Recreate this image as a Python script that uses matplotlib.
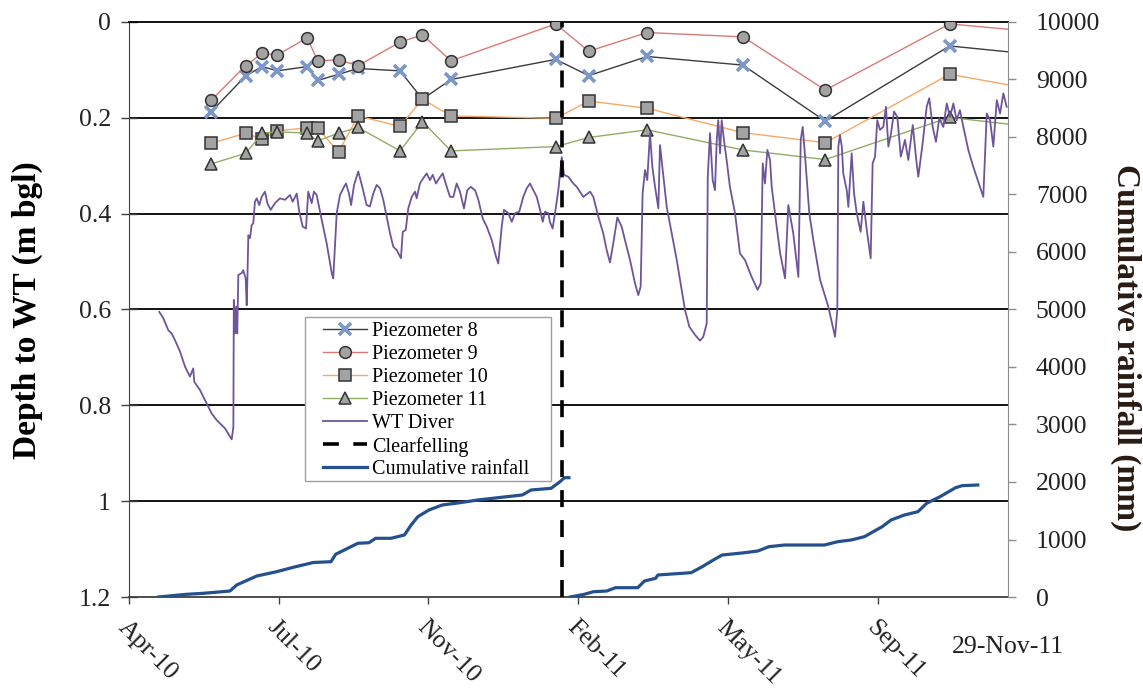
import matplotlib
matplotlib.use('Agg')
import matplotlib.pyplot as plt
from matplotlib.lines import Line2D
from matplotlib.patches import Rectangle
from matplotlib.transforms import ScaledTranslation

plt.rcParams['font.family'] = ['Liberation Serif', 'DejaVu Serif']

# ---------------- data (x = days since 21-Apr-2010) ----------------
x_start_label = 0
x_end = 587                      # 29-Nov-11
tick_days = [0, 100, 200, 300, 400, 500]
tick_labels = ['Apr-10', 'Jul-10', 'Nov-10', 'Feb-11', 'May-11', 'Sep-11']
end_label = '29-Nov-11'

piezo_days = [55, 78, 89, 99, 119, 126, 140, 153, 181, 196, 215, 285, 307, 346, 410, 465, 548, 615]
p8 = [0.187, 0.112, 0.093, 0.102, 0.093, 0.122, 0.109, 0.097, 0.102, 0.161, 0.120, 0.078,
      0.112, 0.072, 0.090, 0.207, 0.050, 0.071]
p9 = [0.163, 0.091, 0.065, 0.069, 0.033, 0.081, 0.079, 0.091, 0.042, 0.027, 0.081, 0.004,
      0.061, 0.022, 0.031, 0.142, 0.004, 0.023]
p10 = [0.253, 0.232, 0.245, 0.227, 0.221, 0.222, 0.271, 0.196, 0.218, 0.161, 0.196, 0.201,
       0.165, 0.180, 0.231, 0.252, 0.109, 0.147]
p11 = [0.296, 0.274, 0.232, 0.229, 0.232, 0.248, 0.232, 0.220, 0.269, 0.208, 0.269, 0.260,
       0.241, 0.225, 0.267, 0.287, 0.199, 0.223]

diver_days = [20.2, 22.9, 26.2, 28.5, 30.7, 34.1, 37.4, 40.7, 42.9, 43.6, 47.4, 51.9, 55.2, 58.6,
              64.1, 68.6, 69.7, 70.0, 70.8, 71.5, 72.3, 73.0, 75.3, 76.3, 77.9, 78.6, 79.0, 79.7,
              80.8, 81.9, 83.0, 84.1, 85.3, 87.0, 88.6, 90.8, 92.4, 94.6, 97.5, 100.8, 104.2,
              107.5, 109.3, 112.0, 113.7, 116.0, 118.2, 119.7, 122.0, 123.5, 125.3, 128.7, 132.0,
              135.4, 136.4, 138.7, 140.9, 143.1, 144.9, 146.9, 148.3, 150.3, 153.1, 155.8, 158.7,
              160.9, 163.1, 165.4, 167.6, 169.8, 171.6, 174.3, 176.5, 178.8, 181.6, 182.8, 184.8,
              186.5, 188.8, 191.0, 192.1, 194.3, 196.5, 198.8, 201.0, 202.8, 205.0, 207.2, 209.5,
              212.2, 214.4, 216.6, 218.8, 221.0, 223.7, 225.9, 228.2, 231.1, 233.3, 236.2, 238.9,
              242.2, 245.1, 246.6, 248.9, 250.4, 253.3, 255.6, 257.8, 260.6, 263.3, 265.6, 267.8,
              270.0, 272.3, 274.5, 276.3, 277.8, 280.0, 281.1, 282.9, 285.1, 286.7, 287.8, 289.0,
              290.5, 293.4, 296.7, 299.0, 303.4, 307.9, 310.1, 313.4, 316.7, 319.0, 321.2, 323.4,
              326.1, 329.0, 331.2, 334.6, 337.9, 340.1, 341.7, 343.0, 344.6, 346.1, 347.9, 349.5,
              351.3, 353.5, 354.6, 356.4, 359.1, 362.4, 365.8, 369.1, 371.3, 374.2, 378.0, 381.3,
              383.5, 385.8, 386.5, 388.0, 389.8, 391.3, 392.5, 393.5, 394.7, 395.8, 397.3, 399.1,
              401.3, 404.7, 408.0, 411.4, 415.8, 419.8, 421.9, 423.2, 424.7, 426.3, 428.1, 429.2,
              431.4, 434.8, 438.1, 440.3, 443.6, 447.0, 448.6, 449.9, 451.5, 454.3, 457.0, 461.5,
              467.0, 471.5, 473.0, 473.7, 474.8, 476.0, 477.0, 479.3, 480.4, 482.6, 484.2, 486.0,
              488.6, 490.4, 493.0, 495.3, 496.6, 498.2, 499.7, 501.5, 503.7, 505.5, 507.1, 508.9,
              510.9, 513.1, 515.4, 518.2, 520.4, 523.4, 525.6, 527.1, 530.0, 532.7, 534.4, 536.7,
              538.9, 541.1, 543.8, 546.1, 548.3, 550.5, 552.7, 554.9, 557.2, 560.5, 563.8, 568.3,
              570.5, 571.6, 572.8, 575.0, 577.2, 579.5, 581.7, 583.9, 586.1]
diver_depth = [0.605, 0.618, 0.643, 0.650, 0.664, 0.688, 0.719, 0.740, 0.723, 0.751, 0.768, 0.796,
               0.817, 0.831, 0.848, 0.871, 0.845, 0.580, 0.650, 0.594, 0.650, 0.528, 0.524, 0.518,
               0.535, 0.591, 0.545, 0.445, 0.451, 0.424, 0.420, 0.375, 0.368, 0.382, 0.365, 0.354,
               0.378, 0.392, 0.378, 0.368, 0.371, 0.361, 0.375, 0.358, 0.396, 0.427, 0.431, 0.354,
               0.378, 0.354, 0.361, 0.413, 0.462, 0.524, 0.535, 0.399, 0.361, 0.347, 0.337, 0.358,
               0.382, 0.340, 0.312, 0.344, 0.382, 0.385, 0.358, 0.340, 0.347, 0.371, 0.399, 0.441,
               0.469, 0.476, 0.493, 0.438, 0.434, 0.389, 0.365, 0.354, 0.368, 0.337, 0.326, 0.316,
               0.330, 0.319, 0.337, 0.326, 0.316, 0.344, 0.365, 0.365, 0.337, 0.354, 0.389, 0.351,
               0.344, 0.351, 0.371, 0.410, 0.427, 0.455, 0.490, 0.504, 0.427, 0.392, 0.399, 0.417,
               0.399, 0.396, 0.365, 0.347, 0.337, 0.351, 0.365, 0.392, 0.417, 0.396, 0.399, 0.417,
               0.431, 0.386, 0.351, 0.319, 0.282, 0.319, 0.323, 0.337, 0.344, 0.365, 0.354, 0.365,
               0.406, 0.441, 0.476, 0.502, 0.462, 0.408, 0.427, 0.455, 0.497, 0.545, 0.570, 0.552,
               0.358, 0.309, 0.330, 0.232, 0.302, 0.344, 0.389, 0.257, 0.309, 0.386, 0.441, 0.497,
               0.559, 0.601, 0.636, 0.653, 0.665, 0.657, 0.629, 0.323, 0.232, 0.330, 0.351, 0.246,
               0.205, 0.274, 0.205, 0.246, 0.288, 0.344, 0.399, 0.483, 0.497, 0.532, 0.559, 0.545,
               0.295, 0.337, 0.267, 0.288, 0.344, 0.399, 0.482, 0.535, 0.382, 0.441, 0.532, 0.246,
               0.219, 0.281, 0.399, 0.455, 0.538, 0.594, 0.657, 0.601, 0.260, 0.236, 0.260, 0.316,
               0.351, 0.386, 0.274, 0.358, 0.399, 0.438, 0.375, 0.441, 0.493, 0.295, 0.281, 0.205,
               0.225, 0.219, 0.177, 0.260, 0.232, 0.187, 0.198, 0.281, 0.246, 0.288, 0.215, 0.284,
               0.323, 0.253, 0.177, 0.159, 0.219, 0.250, 0.201, 0.219, 0.170, 0.198, 0.170, 0.205,
               0.184, 0.219, 0.267, 0.302, 0.344, 0.365, 0.281, 0.191, 0.205, 0.260, 0.163, 0.191,
               0.149, 0.177]

rain1_days = [19.6, 38.5, 49.6, 67.4, 71.9, 85.3, 98.6, 109.7, 123.1, 134.9, 138.0, 143.8, 152.8,
              160.2, 164.7, 175.0, 183.9, 188.4, 192.9, 200.3, 209.2, 221.0, 232.9, 246.3, 262.6,
              268.5, 281.9, 287.8, 290.8, 293.8]
rain1_mm = [0, 47, 64, 104, 209, 365, 440, 517, 600, 614, 743, 817, 934, 944, 1021, 1021, 1078,
            1252, 1397, 1513, 1600, 1640, 1687, 1727, 1774, 1861, 1890, 2005, 2075, 2075]
rain2_days = [294.6, 304.1, 310.1, 319.0, 324.9, 339.8, 344.2, 351.7, 353.2, 375.4, 382.8, 390.2,
              396.1, 411.0, 419.9, 427.3, 437.7, 464.4, 473.3, 482.2, 491.1, 497.0, 503.0, 508.9,
              517.8, 526.8, 532.7, 541.6, 552.0, 556.4, 566.8]
rain2_mm = [0, 47, 92, 104, 162, 162, 278, 325, 383, 423, 527, 643, 730, 770, 800, 875, 904, 904,
            962, 991, 1049, 1136, 1223, 1339, 1426, 1483, 1630, 1744, 1901, 1936, 1948]

clearfelling_day = 289

# ---------------- figure ----------------
W, H = 1143, 689
fig = plt.figure(figsize=(W / 100, H / 100), dpi=100)
ax = fig.add_axes([129 / W, 1 - 597 / H, (1008 - 129) / W, (597 - 22) / H])
ax2 = ax.twinx()

marker_face = '#A3A3A3'
marker_edge = '#333333'
c8, c9, c10, c11 = '#3C3C3C', '#D97A78', '#F7A867', '#92AD64'
c_div, c_rain = '#6E559A', '#24508E'

ax.plot(piezo_days, p8, color=c8, lw=1.0, marker='x', ms=9, mew=2.6, mec='#7D98C8', zorder=3)
ax.plot(piezo_days, p9, color=c9, lw=1.0, marker='o', ms=8.5, mfc=marker_face,
        mec=marker_edge, mew=1.1, zorder=3)
ax.plot(piezo_days, p10, color=c10, lw=1.0, marker='s', ms=8.5, mfc=marker_face,
        mec=marker_edge, mew=1.1, zorder=3)
ax.plot(piezo_days, p11, color=c11, lw=1.0, marker='^', ms=9, mfc=marker_face,
        mec=marker_edge, mew=1.1, zorder=3)
ax.plot(diver_days, diver_depth, color=c_div, lw=1.3, zorder=4)

for d in [0.2, 0.4, 0.6, 0.8, 1.0]:
    ax.axhline(d, color='black', lw=1.3, zorder=1)

ax.set_ylim(1.2, 0)
ax.set_xlim(x_start_label, x_end)
ax.set_yticks([0, 0.2, 0.4, 0.6, 0.8, 1.0, 1.2])
ax.set_yticklabels(['0', '0.2', '0.4', '0.6', '0.8', '1', '1.2'])
ax.set_xticks(tick_days)
ax.set_xticklabels(tick_labels, rotation=-45, ha='left', va='top', rotation_mode='anchor')
for lab in ax.get_xticklabels():
    lab.set_transform(lab.get_transform() + ScaledTranslation(0.14, 0, fig.dpi_scale_trans))

ax.tick_params(axis='y', direction='inout', length=12, width=1.0, color='#404040',
               labelsize=18.5, pad=7, labelcolor='#222222')
ax.tick_params(axis='x', direction='out', length=5, width=1.0, color='#404040',
               labelsize=18.5, pad=9, labelcolor='#222222')

ax.spines['left'].set_color('#404040')
ax.spines['bottom'].set_color('#404040')
ax.spines['bottom'].set_linewidth(1.3)
ax.spines['top'].set_color('black')
ax.spines['top'].set_linewidth(1.3)
ax.spines['right'].set_visible(False)

fig.text(27 / W, 1 - 310 / H, 'Depth to WT (m bgl)', rotation=90, ha='center', va='center',
         fontsize=24, fontweight='bold', color='black')
fig.text(1126 / W, 1 - 348 / H, 'Cumulative rainfall (mm)', rotation=270, ha='center',
         va='center', fontsize=24, fontweight='bold', color='#2A1A14')

ax.text(x_end, -0.087, end_label, transform=ax.get_xaxis_transform(), ha='center',
        va='center', fontsize=18.5, color='#222222')

# secondary axis
ax2.plot(rain1_days, rain1_mm, color=c_rain, lw=2.3, zorder=3)
ax2.plot(rain2_days, rain2_mm, color=c_rain, lw=2.3, zorder=3)
ax2.axvline(clearfelling_day, color='black', lw=2.6, dashes=(4.7, 3.6), zorder=5)
ax2.set_ylim(0, 10000)
ax2.set_xlim(x_start_label, x_end)
ax2.set_yticks(range(0, 10001, 1000))
ax2.tick_params(axis='y', direction='out', length=6, width=1.0, color='#8C8C8C',
                labelsize=18.5, pad=14, labelcolor='#222222')
for s in ['left', 'bottom', 'top']:
    ax2.spines[s].set_visible(False)
ax2.spines['right'].set_color('#8C8C8C')

# legend frame drawn separately
frame = Rectangle((305 / W, 1 - 481 / H), (551 - 305) / W, (481 - 317) / H,
                  transform=fig.transFigure, facecolor='white', edgecolor='#A0A0A0',
                  lw=1.0, zorder=9, clip_on=False)
ax2.add_patch(frame)

handles = [
    Line2D([], [], color=c8, lw=1.0, marker='x', ms=9, mew=2.6, mec='#7D98C8'),
    Line2D([], [], color=c9, lw=1.0, marker='o', ms=8.5, mfc=marker_face, mec=marker_edge, mew=1.1),
    Line2D([], [], color=c10, lw=1.0, marker='s', ms=8.5, mfc=marker_face, mec=marker_edge, mew=1.1),
    Line2D([], [], color=c11, lw=1.0, marker='^', ms=9, mfc=marker_face, mec=marker_edge, mew=1.1),
    Line2D([], [], color=c_div, lw=1.3),
    Line2D([], [], color='black', lw=2.6, dashes=(4.4, 4.0)),
    Line2D([], [], color=c_rain, lw=2.3),
]
labels = ['Piezometer 8', 'Piezometer 9', 'Piezometer 10', 'Piezometer 11', 'WT Diver',
          'Clearfelling', 'Cumulative rainfall']
leg = ax2.legend(handles, labels, loc='upper left', bbox_to_anchor=(323 / W, 1 - 322 / H),
                 bbox_transform=fig.transFigure, borderaxespad=0, fontsize=14.5,
                 handlelength=2.2, handletextpad=0.25, labelspacing=0.19, borderpad=0,
                 frameon=False)
leg.set_zorder(10)

fig.savefig('out.png', dpi=100)
